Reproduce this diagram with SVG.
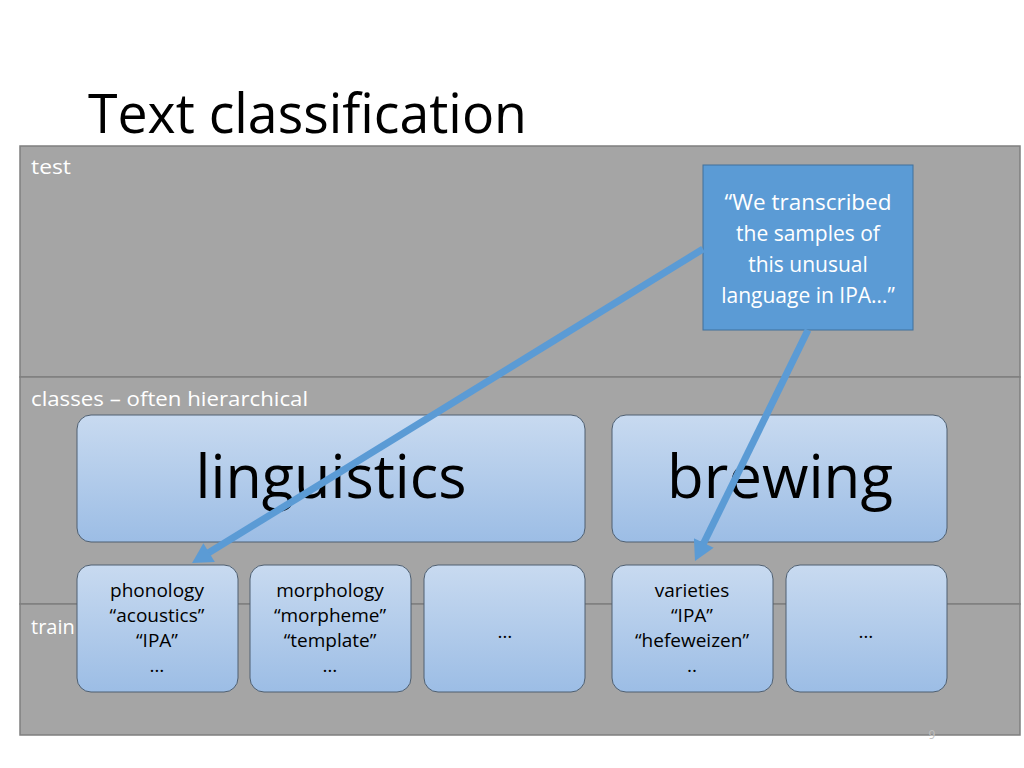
<svg xmlns="http://www.w3.org/2000/svg" width="1024" height="768" viewBox="0 0 1024 768">
<defs>
<linearGradient id="boxg" x1="0" y1="0" x2="0" y2="1">
<stop offset="0" stop-color="#C8DAF0"/>
<stop offset="1" stop-color="#9CBDE5"/>
</linearGradient>
<marker id="ah" markerUnits="userSpaceOnUse" markerWidth="22" markerHeight="22" viewBox="0 0 20 22" refX="2" refY="11" orient="auto">
<path d="M0,0 L20,11 L0,22 z" fill="#5B9BD5"/>
</marker>
<style>
.band{fill:#A5A5A5;stroke:#7F7F7F;stroke-width:1.5}
.lbl{font-family:"Open Sans","Liberation Sans",sans-serif;font-size:20px;fill:#FFFFFF}
.box{fill:url(#boxg);stroke:#4F5F70;stroke-width:1}
.big{font-family:"Open Sans","Liberation Sans",sans-serif;font-size:60px;fill:#000000;text-anchor:middle}
.sm{font-family:"Open Sans","Liberation Sans",sans-serif;font-size:19px;fill:#000000;text-anchor:middle}
.qt{font-family:"Open Sans","Liberation Sans",sans-serif;font-size:21px;fill:#FFFFFF;text-anchor:middle}
.conn{stroke:#5B9BD5;stroke-width:7;fill:none;marker-end:url(#ah)}
</style>
</defs>
<rect width="1024" height="768" fill="#FFFFFF"/>
<text x="88" y="133" font-family="Open Sans, Liberation Sans, sans-serif" font-size="54" fill="#000000" textLength="439" lengthAdjust="spacingAndGlyphs">Text classification</text>
<g id="bands">
<rect class="band" x="20" y="146" width="1000" height="231"/>
<rect class="band" x="20" y="377" width="1000" height="227"/>
<rect class="band" x="20" y="604" width="1000" height="131"/>
<text class="lbl" x="31" y="174" textLength="40" lengthAdjust="spacingAndGlyphs">test</text>
<text class="lbl" x="31" y="406" textLength="277" lengthAdjust="spacingAndGlyphs">classes – often hierarchical</text>
<text class="lbl" x="31" y="634">train</text>
</g>
<g id="quote">
<rect x="703" y="165" width="210" height="165" fill="#5B9BD5" stroke="#41719C" stroke-width="1"/>
<text class="qt" x="808" y="210" textLength="167" lengthAdjust="spacingAndGlyphs">“We transcribed</text>
<text class="qt" x="808" y="241">the samples of</text>
<text class="qt" x="808" y="272">this unusual</text>
<text class="qt" x="808" y="303">language in IPA…”</text>
</g>
<g id="linguistics">
<rect class="box" x="77" y="415" width="508" height="127" rx="14"/>
<text class="big" x="331" y="498" textLength="271" lengthAdjust="spacingAndGlyphs">linguistics</text>
</g>
<g id="brewing">
<rect class="box" x="612" y="415" width="335" height="127" rx="14"/>
<text class="big" x="780" y="498" textLength="226" lengthAdjust="spacingAndGlyphs">brewing</text>
</g>
<g id="phonology">
<rect class="box" x="77" y="565" width="161" height="127" rx="14"/>
<text class="sm" x="157" y="597">phonology</text>
<text class="sm" x="157" y="622">“acoustics”</text>
<text class="sm" x="157" y="647">“IPA”</text>
<text class="sm" x="157" y="672">…</text>
</g>
<g id="morphology">
<rect class="box" x="250" y="565" width="161" height="127" rx="14"/>
<text class="sm" x="330" y="597">morphology</text>
<text class="sm" x="330" y="622">“morpheme”</text>
<text class="sm" x="330" y="647">“template”</text>
<text class="sm" x="330" y="672">…</text>
</g>
<g id="ling-more">
<rect class="box" x="424" y="565" width="161" height="127" rx="14"/>
<text class="sm" x="505" y="638">…</text>
</g>
<g id="varieties">
<rect class="box" x="612" y="565" width="161" height="127" rx="14"/>
<text class="sm" x="692" y="597">varieties</text>
<text class="sm" x="692" y="622">“IPA”</text>
<text class="sm" x="692" y="647">“hefeweizen”</text>
<text class="sm" x="692" y="672">..</text>
</g>
<g id="brew-more">
<rect class="box" x="786" y="565" width="161" height="127" rx="14"/>
<text class="sm" x="866" y="638">…</text>
</g>
<g id="connectors">
<line class="conn" x1="703" y1="249" x2="207.4" y2="553.6"/>
<line class="conn" x1="808" y1="330" x2="702.9" y2="544.8"/>
</g>
<text x="932" y="739" font-family="Open Sans, Liberation Sans, sans-serif" font-size="12" fill="#BFBFBF" text-anchor="middle">9</text>
</svg>
